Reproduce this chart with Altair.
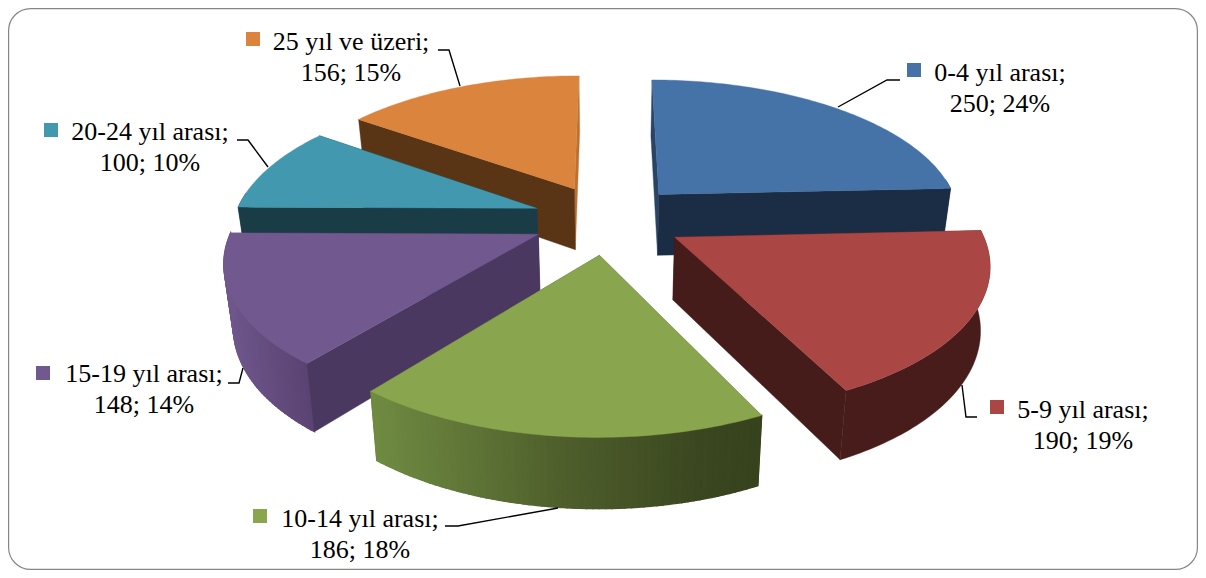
import math
import altair as alt
import pandas as pd

categories = ["0-4 yıl arası", "5-9 yıl arası", "10-14 yıl arası", "15-19 yıl arası", "20-24 yıl arası", "25 yıl ve üzeri"]
values = [250, 190, 186, 148, 100, 156]
percents = [24, 19, 18, 14, 10, 15]
top_colors = ["#4572A7", "#AA4643", "#89A54E", "#71588F", "#4198AF", "#DB843D"]
wall_colors = ["#1B2D45", "#451C1A", "#56682F", "#4A3860", "#1A3C47", "#593516"]
hidden_wall_colors = ["#2A4468", "#451C1A", "#56682F", "#4A3860", "#1A3C47", "#BC7130"]
rim_stops = [
    [(600, "#1B2D45"), (1000, "#1B2D45")],
    [(600, "#471C1A"), (1000, "#471C1A")],
    [(373, "#6F8B42"), (560, "#4F5F2C"), (700, "#3A4720"), (757, "#37431D")],
    [(224, "#6F578C"), (315, "#584270")],
    [(200, "#1A3C47"), (500, "#1A3C47")],
    [(300, "#593516"), (600, "#593516")],
]
# drawing order, back to front
paint_order = [5, 4, 0, 3, 1, 2]

# text anchors in page pixels: centre x, first baseline, key centre, leader path
label_layout = [
    (1000, 81, (914, 70), [(838, 107), (887, 80), (900, 80)]),
    (1083, 418, (997, 407), [(962, 385), (966, 417), (977, 417)]),
    (360, 527, (260, 516), [(558, 508), (458, 526), (445, 526)]),
    (144, 382, (43, 373), [(243, 368), (239, 383), (228, 383)]),
    (150, 140, (51, 130), [(268, 167), (248, 140), (237, 140)]),
    (351, 50, (253, 39), [(460, 86), (449, 50), (438, 50)]),
]

W, H = 1190, 562
OX, OY = 8, 8
CX, CY, RX, RY = 608, 219, 303, 140
PERSP, EXPLODE, DEPTH, DEPTH_GROW, SHRINK = 0.16, 0.25, 62, 37, 0.975


def project(u, v, low=False):
    s = 1 / (1 - PERSP * v)
    x = CX + RX * u * s
    y = CY + RY * v * s
    if low:
        x = CX + (x - CX) * SHRINK
        y += DEPTH + DEPTH_GROW * (s - 1)
    return [round(x, 2), round(y, 2)]


def hex_rgb(c):
    return [int(c[i:i + 2], 16) for i in (1, 3, 5)]


def shade(stops, x):
    if x <= stops[0][0]:
        return stops[0][1]
    for (x0, c0), (x1, c1) in zip(stops, stops[1:]):
        if x <= x1:
            t = (x - x0) / (x1 - x0)
            a, b = hex_rgb(c0), hex_rgb(c1)
            return "#%02x%02x%02x" % tuple(round(p + (q - p) * t) for p, q in zip(a, b))
    return stops[-1][1]


def feature(ring, fill, sw=0.4):
    return {
        "type": "Feature",
        "geometry": {"type": "Polygon", "coordinates": [ring + [ring[0]]]},
        "properties": {"fill": fill, "sw": sw},
    }


total = sum(values)
starts = []
acc = 0
for val in values:
    starts.append(acc / total * 2 * math.pi)
    acc += val

features = []
for i in paint_order:
    a0 = starts[i]
    a1 = a0 + values[i] / total * 2 * math.pi
    mid = (a0 + a1) / 2
    ou, ov = EXPLODE * math.sin(mid), -EXPLODE * math.cos(mid)
    steps = max(8, int(math.degrees(a1 - a0)))
    angles = [a0 + (a1 - a0) * k / steps for k in range(steps + 1)]
    arc = [(ou + math.sin(t), ov - math.cos(t)) for t in angles]

    def wall(a):
        p = (ou + math.sin(a), ov - math.cos(a))
        return [project(ou, ov), project(*p), project(*p, low=True), project(ou, ov, low=True)]

    # walls turned away from the viewer go under the rim
    start_front = math.sin(a0) <= 0.001
    end_front = math.sin(a1) > 0.001
    if not start_front:
        features.append(feature(wall(a0), hidden_wall_colors[i]))
    if not end_front:
        features.append(feature(wall(a1), hidden_wall_colors[i]))

    # the rim: one whole band under finer colour bands where it has a gradient
    front = [k for k in range(steps + 1) if math.cos(angles[k]) < 0.12]
    if len(front) > 1:
        upper = [project(*arc[k]) for k in front]
        lower = [project(*arc[k], low=True) for k in reversed(front)]
        features.append(feature(upper + lower, shade(rim_stops[i], upper[len(upper) // 2][0])))
        if rim_stops[i][0][1] != rim_stops[i][-1][1]:
            for k0, k1 in zip(front, front[1:]):
                quad = [project(*arc[k0]), project(*arc[k1]), project(*arc[k1], low=True), project(*arc[k0], low=True)]
                features.append(feature(quad, shade(rim_stops[i], (quad[0][0] + quad[1][0]) / 2), sw=1.3))
    if start_front:
        features.append(feature(wall(a0), wall_colors[i] if a0 > 0.01 else hidden_wall_colors[i]))
    if end_front:
        features.append(feature(wall(a1), wall_colors[i]))
    features.append(feature([project(ou, ov)] + [project(*p) for p in arc], top_colors[i]))

x_enc = alt.X("x:Q", scale=alt.Scale(domain=[OX, OX + W], range=[0, W]), axis=None)
y_enc = alt.Y("y:Q", scale=alt.Scale(domain=[OY, OY + H], range=[0, H]), axis=None)

frame = (
    alt.Chart(pd.DataFrame({"x": [OX + 0.6], "x2": [OX + W - 0.6], "y": [OY + 0.6], "y2": [OY + H - 0.6]}))
    .mark_rect(cornerRadius=22, fill="#FFFFFF", stroke="#868686", strokeWidth=1.2)
    .encode(x=x_enc, x2="x2:Q", y=y_enc, y2="y2:Q")
)

slices = (
    alt.Chart(alt.Data(values=features))
    .mark_geoshape()
    .encode(
        fill=alt.Fill("properties.fill:N", scale=None),
        stroke=alt.Stroke("properties.fill:N", scale=None),
        strokeWidth=alt.StrokeWidth("properties.sw:Q", scale=None),
    )
    .project(type="identity", scale=1, translate=[-OX, -OY])
)

text_rows, key_rows, leader_rows = [], [], []
for i, (cat, val, pct, lay) in enumerate(zip(categories, values, percents, label_layout)):
    cx, base, key, path = lay
    text_rows.append({"x": cx, "y": base, "t": cat + ";"})
    text_rows.append({"x": cx, "y": base + 30.5, "t": f"{val}; {pct}%"})
    key_rows.append({"x": key[0], "y": key[1], "c": top_colors[i]})
    for n, (px, py) in enumerate(path):
        leader_rows.append({"x": px, "y": py, "id": i, "n": n})

leaders = (
    alt.Chart(pd.DataFrame(leader_rows))
    .mark_line(color="#000000", strokeWidth=1.4)
    .encode(x=x_enc, y=y_enc, detail="id:N", order="n:Q")
)
keys = (
    alt.Chart(pd.DataFrame(key_rows))
    .mark_square(size=196, opacity=1)
    .encode(x=x_enc, y=y_enc, fill=alt.Fill("c:N", scale=None))
)
texts = (
    alt.Chart(pd.DataFrame(text_rows))
    .mark_text(font="Liberation Serif", fontSize=26, color="#000000", align="center", baseline="alphabetic")
    .encode(x=x_enc, y=y_enc, text="t:N")
)

chart = (
    alt.layer(frame, slices, leaders, keys, texts)
    .properties(width=W, height=H, padding=0, background="#FFFFFF", autosize=alt.AutoSizeParams(type="none"))
    .configure_view(stroke=None)
)
chart.save("out.html", embed_options={"renderer": "svg", "actions": False})
